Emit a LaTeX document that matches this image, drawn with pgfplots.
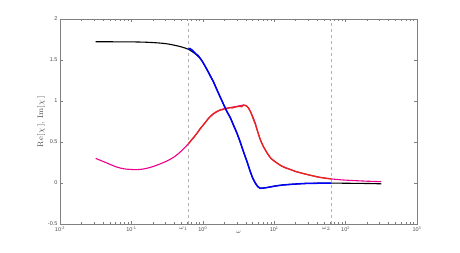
\documentclass[border=0pt]{standalone}
\usepackage{fontspec}
\newfontfamily\ticksf{Liberation Sans}
\usepackage{pgfplots}
\pgfplotsset{compat=1.18}
\definecolor{axgray}{rgb}{0.5,0.5,0.5}
\definecolor{lblgray}{rgb}{0.3,0.3,0.3}
\definecolor{mred}{rgb}{0.9,0.15,0.1}
\begin{document}
\begin{tikzpicture}
\useasboundingbox (0,0) rectangle (460pt,252pt);
\begin{axis}[
  at={(60pt,28pt)}, anchor=south west,
  scale only axis, width=357pt, height=205pt,
  xmode=log, xmin=0.01, xmax=1000, ymin=-0.5, ymax=2,
  xtick={0.01,0.1,1,10,100,1000},
  xticklabels={10\textsuperscript{-2},10\textsuperscript{-1},10\textsuperscript{0},10\textsuperscript{1},10\textsuperscript{2},10\textsuperscript{3}},
  ytick={-0.5,0,0.5,1,1.5,2},
  /pgf/number format/assume math mode=true,
  yticklabel style={/pgf/number format/fixed},
  tick align=inside,
  major tick length=3.5pt, minor tick length=2pt,
  axis line style={axgray, line width=0.6pt},
  every tick/.style={axgray, line width=0.5pt},
  tick label style={font=\ticksf\fontsize{5.5}{6}\selectfont, text=lblgray},
  xticklabel style={yshift=1pt},
  yticklabel style={xshift=1pt},
  extra x ticks={0.628,62.8},
  extra x tick labels={$\omega_1$,$\omega_2$},
  extra x tick style={major tick length=0pt, tick label style={xshift=-5pt, font=\fontsize{6}{6}\selectfont}},
  xlabel={$\omega$},
  xlabel style={font=\fontsize{6.5}{7}\selectfont, text=lblgray, yshift=7pt},
  ylabel={$\mathrm{Re}[\,\chi\,]$, $\mathrm{Im}[\,\chi\,]$},
  ylabel style={font=\fontsize{8}{9}\selectfont, text=lblgray, yshift=-4pt},
  clip=false,
]
\addplot[gray!60, dashed, line width=0.6pt, forget plot] coordinates {(0.628,-0.5) (0.628,2)};
\addplot[gray!60, dashed, line width=0.6pt, forget plot] coordinates {(62.8,-0.5) (62.8,2)};
% Im, model (magenta)
\addplot[magenta, line width=1.1pt, smooth] coordinates {
(0.0316,0.30)(0.045,0.245)(0.062,0.195)(0.08,0.172)(0.1,0.165)(0.12,0.163)(0.15,0.172)(0.2,0.20)(0.3,0.26)(0.4,0.32)(0.5,0.39)(0.63,0.48)(0.8,0.59)(1.0,0.70)(1.27,0.81)(1.75,0.89)(2.4,0.92)(3.0,0.935)(3.7,0.95)(4.0,0.945)(4.4,0.91)(4.9,0.83)(5.43,0.73)(6.0,0.60)(6.38,0.53)(7.0,0.45)(7.9,0.37)(9.0,0.30)(10.3,0.26)(12.5,0.21)(16.8,0.165)(20,0.14)(27,0.11)(40,0.075)(63,0.05)(100,0.035)(200,0.022)(316,0.016)};
% Re, model (black)
\addplot[black, line width=1.1pt, smooth] coordinates {
(0.0316,1.722)(0.05,1.722)(0.1,1.721)(0.18,1.715)(0.3,1.70)(0.4,1.68)(0.5,1.66)(0.63,1.63)(0.8,1.57)(0.92,1.52)(1.1,1.41)(1.4,1.24)(1.75,1.05)(2.18,0.87)(2.42,0.80)(3.0,0.61)(3.72,0.38)(4.2,0.25)(4.62,0.14)(5.0,0.06)(5.43,0.0)(5.9,-0.045)(6.38,-0.065)(7.0,-0.062)(8.8,-0.048)(10.3,-0.037)(13,-0.025)(16.8,-0.017)(27,-0.006)(40,-0.003)(63,-0.001)(100,-0.003)(200,-0.006)(316,-0.010)};
% Im, measured (red)
\addplot[mred, line width=1.3pt] coordinates {
(0.63,0.48)(0.66,0.50)(0.7,0.53)(0.75,0.555)(0.8,0.59)(0.86,0.625)(0.92,0.665)(1.0,0.70)(1.1,0.745)(1.18,0.78)(1.27,0.81)(1.4,0.845)(1.55,0.87)(1.75,0.89)(1.9,0.895)(2.0,0.905)(2.2,0.91)(2.42,0.918)(2.6,0.915)(2.8,0.925)(3.0,0.93)(3.3,0.935)(3.5,0.93)(3.72,0.95)(4.0,0.945)(4.2,0.93)(4.4,0.91)(4.65,0.87)(4.9,0.82)(5.15,0.77)(5.43,0.72)(5.7,0.66)(6.0,0.60)(6.38,0.53)(7.0,0.45)(7.9,0.37)(9.0,0.30)(10.3,0.26)(12.5,0.21)(14.3,0.185)(16.8,0.165)(20,0.14)(27,0.11)(34,0.09)(40,0.075)(50,0.06)(63,0.05)};
% Re, measured (blue)
\addplot[blue, line width=1.5pt] coordinates {
(0.63,1.63)(0.66,1.64)(0.70,1.625)(0.75,1.60)(0.80,1.575)(0.86,1.555)(0.92,1.52)(1.0,1.475)(1.1,1.41)(1.2,1.35)(1.3,1.29)(1.4,1.24)(1.55,1.15)(1.75,1.05)(1.95,0.96)(2.18,0.87)(2.42,0.80)(2.7,0.70)(3.0,0.61)(3.35,0.50)(3.72,0.38)(4.2,0.25)(4.62,0.14)(5.0,0.06)(5.43,0.0)(5.9,-0.045)(6.38,-0.065)(7.0,-0.062)(8.0,-0.055)(8.8,-0.048)(10.3,-0.037)(13,-0.025)(16.8,-0.017)(22,-0.01)(27,-0.006)(40,-0.003)(63,-0.001)};
\end{axis}
\end{tikzpicture}
\end{document}
